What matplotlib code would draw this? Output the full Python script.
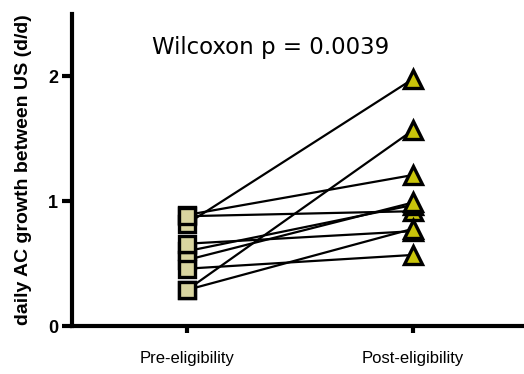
import matplotlib
matplotlib.use("Agg")
import matplotlib.pyplot as plt

plt.rcParams['font.family'] = ['Liberation Sans', 'DejaVu Sans']

# Paired values (pre -> post)
groups = ["Pre-eligibility", "Post-eligibility"]
pre_vals  = [0.82, 0.29, 0.89, 0.88, 0.60, 0.53, 0.66, 0.29, 0.46]
post_vals = [1.98, 1.57, 1.21, 0.92, 0.97, 0.99, 0.76, 0.78, 0.57]
y_ticks = [0, 1, 2]
stat_text = "Wilcoxon p = 0.0039"

fig = plt.figure(figsize=(5.24, 3.74), dpi=100)
ax = fig.add_axes([0.137, 0.128, 0.863, 0.835])

for a, b in zip(pre_vals, post_vals):
    ax.plot([0, 1], [a, b], color="black", linewidth=1.6, zorder=2)

ax.plot([0] * len(pre_vals), pre_vals, linestyle="none", marker="s",
        markersize=11.5, markerfacecolor="#d9d5a0", markeredgecolor="black",
        markeredgewidth=2.4, zorder=3)
ax.plot([1] * len(post_vals), post_vals, linestyle="none", marker="^",
        markersize=13, markerfacecolor="#c9c40a", markeredgecolor="black",
        markeredgewidth=2.4, zorder=3, clip_on=False)

ax.set_xlim(-0.51, 1.49)
ax.set_ylim(0, 2.5)
ax.set_xticks([0, 1])
ax.set_xticklabels(groups, fontsize=12)
ax.set_yticks(y_ticks)
ax.set_yticklabels([str(t) for t in y_ticks], fontsize=13, fontweight="bold")
ax.tick_params(axis="y", width=3, length=7, pad=3)
ax.tick_params(axis="x", width=3, length=5, pad=13)

for side in ["top", "right"]:
    ax.spines[side].set_visible(False)
for side in ["left", "bottom"]:
    ax.spines[side].set_linewidth(3)

ax.set_ylabel("daily AC growth between US (d/d)", fontsize=14,
              fontweight="bold", labelpad=11)
ax.text(0.37, 2.23, stat_text, fontsize=16.5, ha="center", va="center",
        family="DejaVu Sans")

fig.savefig("out.png", dpi=100)
